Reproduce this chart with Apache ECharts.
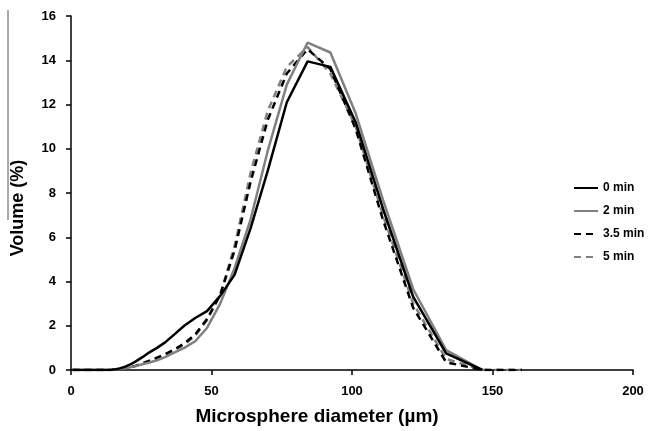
<!DOCTYPE html>
<html><head><meta charset="utf-8">
<script src="https://cdn.jsdelivr.net/npm/echarts@6/dist/echarts.min.js"></script>
<style>html,body{margin:0;padding:0;background:#fff}#c{width:649px;height:431px}</style>
</head><body><div id="c"></div>
<script>
var diameters = [0.5, 13.3, 14.6, 16.0, 17.6, 19.3, 21.1, 23.2, 25.4, 27.9, 30.6, 33.5, 36.7, 40.3, 44.2, 48.4, 53.1, 58.2, 63.9, 70.0, 76.8, 84.2, 92.3, 101.3, 111.0, 121.8, 133.5, 146.4, 160.5];
var min0   = [0, 0, 0.01, 0.04, 0.08, 0.15, 0.25, 0.4, 0.58, 0.8, 1.0, 1.25, 1.6, 2.0, 2.35, 2.66, 3.35, 4.3, 6.4, 9.0, 12.1, 13.95, 13.7, 11.2, 7.3, 3.3, 0.75, 0, null];
var min2   = [0, 0, 0.01, 0.03, 0.05, 0.08, 0.12, 0.18, 0.26, 0.34, 0.44, 0.58, 0.78, 1.0, 1.3, 1.9, 3.0, 4.6, 6.8, 9.9, 12.9, 14.8, 14.35, 11.6, 7.7, 3.65, 0.9, 0, null];
var min35  = [0, 0, 0.01, 0.03, 0.05, 0.08, 0.12, 0.2, 0.3, 0.42, 0.56, 0.72, 0.92, 1.2, 1.6, 2.3, 3.4, 5.4, 8.5, 11.3, 13.4, 14.5, 13.6, 10.9, 6.8, 2.8, 0.35, 0, 0];
var min5   = [0, 0, 0.01, 0.03, 0.05, 0.08, 0.12, 0.19, 0.28, 0.4, 0.52, 0.68, 0.88, 1.15, 1.55, 2.25, 3.4, 5.6, 8.9, 11.7, 13.7, 14.6, 13.4, 11.0, 7.0, 3.0, 0.5, 0, 0];
var seriesNames = ['0 min', '2 min', '3.5 min', '5 min'];
var xTicks = [0, 50, 100, 150, 200];
var yTicks = [0, 2, 4, 6, 8, 10, 12, 14, 16];

function pairs(v){ return diameters.map(function(d,i){ return [d, v[i]]; }); }
var styles = [
  {color:'#000000', type:'solid'},
  {color:'#808080', type:'solid'},
  {color:'#000000', type:[7,5]},
  {color:'#808080', type:[7,5]}
];
var vals = [min0, min2, min35, min5];
var series = vals.map(function(v,i){
  return {
    name: seriesNames[i], type:'line', data: pairs(v), showSymbol:false, symbol:'none',
    lineStyle:{color:styles[i].color, width:2.5, type:styles[i].type},
    itemStyle:{color:styles[i].color}, z: 10 - i
  };
});
var chart = echarts.init(document.getElementById('c'), null, {renderer:'canvas'});
var font = 'Liberation Sans';
chart.setOption({
  animation:false,
  backgroundColor:'#fff',
  grid:{left:71, right:16, top:16, bottom:60, containLabel:false},
  legend:{
    orient:'vertical', left:573, top:182, padding:0, itemWidth:24, itemHeight:12, itemGap:11,
    data: seriesNames,
    itemStyle:{opacity:0},
    textStyle:{fontFamily:font, fontWeight:'bold', fontSize:12, color:'#000'}
  },
  xAxis:{
    type:'value', min:xTicks[0], max:xTicks[xTicks.length-1], interval:50,
    name:'Microsphere diameter (µm)', nameLocation:'middle', nameGap:37,
    nameTextStyle:{fontFamily:font, fontWeight:'bold', fontSize:19, color:'#000', padding:[0,70,0,0]},
    axisLine:{lineStyle:{color:'#000', width:1.5}},
    axisTick:{show:true, length:5, inside:false, lineStyle:{color:'#000', width:1.5}},
    axisLabel:{fontFamily:font, fontWeight:'bold', fontSize:13, color:'#000', margin:15},
    splitLine:{show:false}
  },
  yAxis:{
    type:'value', min:yTicks[0], max:yTicks[yTicks.length-1], interval:2,
    name:'Volume (%)', nameLocation:'middle', nameGap:44, nameRotate:90,
    nameTextStyle:{fontFamily:font, fontWeight:'bold', fontSize:18, color:'#000', padding:[0,30,0,0]},
    axisLine:{show:true, lineStyle:{color:'#000', width:1.5}},
    axisTick:{show:true, length:5, inside:false, lineStyle:{color:'#000', width:1.5}},
    axisLabel:{fontFamily:font, fontWeight:'bold', fontSize:13, color:'#000', margin:15},
    splitLine:{show:false}
  },
  graphic:[{type:'line', shape:{x1:8, y1:10, x2:8, y2:220}, style:{stroke:'#555', lineWidth:1}}],
  series: series
});
</script></body></html>
